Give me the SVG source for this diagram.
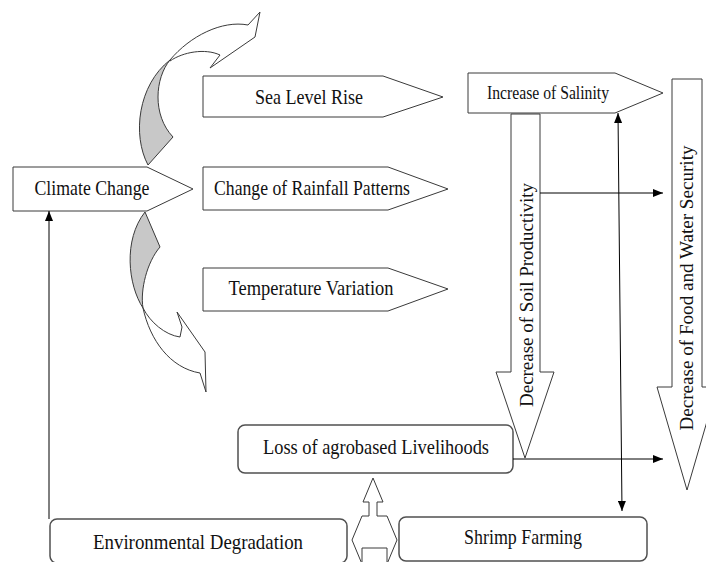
<svg xmlns="http://www.w3.org/2000/svg" width="706" height="562" viewBox="0 0 706 562">
<defs>
<marker id="ah" markerWidth="10" markerHeight="8" refX="10" refY="4" orient="auto-start-reverse" markerUnits="userSpaceOnUse">
<path d="M0,0 L10,4 L0,8 Z" fill="#000"/>
</marker>
<style>
.shape{fill:#fff;stroke:#3a3a3a;stroke-width:1}
.gray{fill:#c8c8c8;stroke:#3a3a3a;stroke-width:1}
.box{fill:#fff;stroke:#505050;stroke-width:1.5}
.t{font-family:"Liberation Serif","Times New Roman",serif;fill:#111;text-anchor:middle}
.conn{stroke:#000;stroke-width:1;fill:none}
</style>
</defs>
<rect width="706" height="562" fill="#fff"/>
<g id="curve-top">
<path class="shape" d="M170,60 C190,36 222,20 248,25 L260,12 L255,37 L210,68 L220,55 C205,48 183,52 170,61 Z"/>
<path class="gray" d="M148,165 C132,135 138,85 170,60 C155,78 152,115 173,137 Z"/>
</g>
<g id="curve-bottom">
<path class="gray" d="M145,212 L160,247 C147,262 140,290 143,308 C128,285 123,240 145,212 Z"/>
<path class="shape" d="M143,308 C150,340 170,368 200,373 L206,392 L205,352 L177,312 L182,327 L180,337 C165,335 150,322 143,308 Z"/>
</g>
<g id="climate-change">
<polygon class="shape" points="13,167 147,167 193,189 147,211 13,211"/>
<text class="t" x="92" y="195" font-size="22" textLength="115" lengthAdjust="spacingAndGlyphs">Climate Change</text>
</g>
<g id="sea-level-rise">
<polygon class="shape" points="203,76 383,76 443,97 383,117 203,117"/>
<text class="t" x="309" y="104" font-size="22" textLength="108" lengthAdjust="spacingAndGlyphs">Sea Level Rise</text>
</g>
<g id="rainfall">
<polygon class="shape" points="203,167 388,167 448,189 388,210 203,210"/>
<text class="t" x="312" y="195" font-size="22" textLength="196" lengthAdjust="spacingAndGlyphs">Change of Rainfall Patterns</text>
</g>
<g id="temperature">
<polygon class="shape" points="203,268 388,268 448,289 388,311 203,311"/>
<text class="t" x="311" y="295" font-size="22" textLength="165" lengthAdjust="spacingAndGlyphs">Temperature Variation</text>
</g>
<g id="salinity">
<polygon class="shape" points="468,73 615,73 663,93 615,113 468,113"/>
<text class="t" x="548" y="99" font-size="18" textLength="122" lengthAdjust="spacingAndGlyphs">Increase of Salinity</text>
</g>
<g id="soil-productivity">
<polygon class="shape" points="511,114 540,114 540,372 554,372 525,458 496,372 511,372"/>
<text class="t" transform="translate(533,295) rotate(-90)" font-size="19" textLength="224" lengthAdjust="spacingAndGlyphs">Decrease of Soil Productivity</text>
</g>
<g id="food-water-security">
<polygon class="shape" points="672,79 702,79 702,387 717,387 687,490 657,387 672,387"/>
<text class="t" transform="translate(693,288) rotate(-90)" font-size="18" textLength="285" lengthAdjust="spacingAndGlyphs">Decrease of Food and Water Security</text>
</g>
<g id="livelihoods">
<rect class="box" x="238" y="425" width="275" height="48" rx="7"/>
<text class="t" x="376" y="454" font-size="21" textLength="226" lengthAdjust="spacingAndGlyphs">Loss of agrobased Livelihoods</text>
</g>
<g id="environmental-degradation">
<rect class="box" x="50" y="519" width="297" height="44" rx="7"/>
<text class="t" x="198" y="549" font-size="21" textLength="210" lengthAdjust="spacingAndGlyphs">Environmental Degradation</text>
</g>
<g id="shrimp-farming">
<rect class="box" x="399" y="517" width="248" height="44" rx="7"/>
<text class="t" x="523" y="544" font-size="21" textLength="118" lengthAdjust="spacingAndGlyphs">Shrimp Farming</text>
</g>
<g id="three-way-arrow">
<path class="shape" stroke-width="1.2" d="M373,478 L383,502 L377,502 L377,516 L387,516 L397,540 L387,564 L387,548 L362,548 L362,564 L352,540 L362,516 L369,516 L369,502 L363,502 Z"/>
</g>
<g id="connectors">
<line class="conn" x1="49" y1="519" x2="49" y2="211" marker-end="url(#ah)"/>
<line class="conn" x1="540" y1="193" x2="663" y2="193" marker-end="url(#ah)"/>
<line class="conn" x1="513" y1="459" x2="663" y2="459" marker-end="url(#ah)"/>
<line class="conn" x1="618" y1="113" x2="622" y2="511" marker-start="url(#ah)" marker-end="url(#ah)"/>
</g>
</svg>
